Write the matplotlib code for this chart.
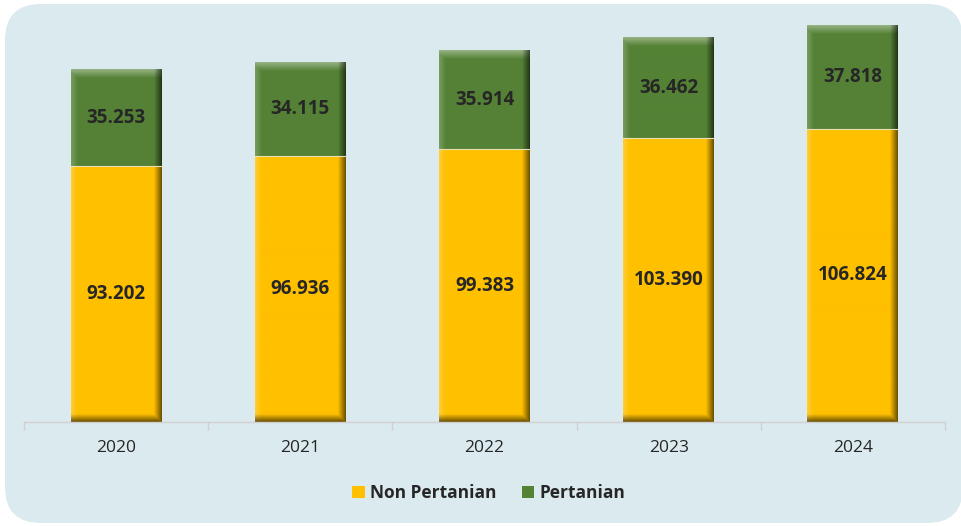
import numpy as np
import matplotlib
matplotlib.use("Agg")
import matplotlib.pyplot as plt
from matplotlib.patches import FancyBboxPatch, Patch
from matplotlib.colors import to_rgb

years = ["2020", "2021", "2022", "2023", "2024"]
non_pertanian = [93.202, 96.936, 99.383, 103.390, 106.824]
pertanian = [35.253, 34.115, 35.914, 36.462, 37.818]

YELLOW = "#FFC000"
GREEN = "#548235"
BG = "#DAEAEF"

plt.rcParams["font.family"] = ["Open Sans", "DejaVu Sans"]

W, H, DPI = 962, 526, 100
fig = plt.figure(figsize=(W / DPI, H / DPI), dpi=DPI)
fig.patch.set_facecolor("white")

# rounded light-blue panel, drawn in pixel coords on a background axes
bg = fig.add_axes([0, 0, 1, 1], zorder=-1)
bg.set_xlim(0, W)
bg.set_ylim(H, 0)
bg.axis("off")
bg.add_patch(FancyBboxPatch((5, 4), 958, 519,
                            boxstyle="round,pad=0,rounding_size=36",
                            facecolor=BG, edgecolor="none"))

ax = fig.add_axes([24 / W, 1 - 422 / H, 921 / W, (422 - 10) / H])
ax.set_facecolor("none")
x = np.arange(len(years))
bw = 0.494
b1 = ax.bar(x, non_pertanian, bw, color=YELLOW, label="Non Pertanian", zorder=1)
b2 = ax.bar(x, pertanian, bw, bottom=non_pertanian, color=GREEN,
            label="Pertanian", zorder=1)
ax.set_xlim(-0.5, len(years) - 0.5)
ax.set_ylim(0, 150)

# pixels per data unit
ppx = 921 / len(years)
ppy = (422 - 10) / 150


def bevel(patch, color, top, bottom):
    x0, y0 = patch.get_x(), patch.get_y()
    w, h = patch.get_width(), patch.get_height()
    nw, nh = int(round(w * ppx)), int(round(h * ppy))
    cx = np.arange(nw) + 0.5
    cy = (np.arange(nh) + 0.5)[::-1]  # distance from bottom, row 0 = top
    base = np.array(to_rgb(color))
    img = np.tile(base, (nh, nw, 1))
    dl = cx[None, :]
    dr = nw - cx[None, :]
    db = cy[:, None]
    dt = nh - cy[:, None]
    light = np.clip(1 - dl / 7, 0, 1) * 0.22 * np.ones((nh, 1))
    dark = np.clip(1 - dr / 8, 0, 1) * 0.6 * np.ones((nh, 1))
    if top:
        light = np.maximum(light, np.clip(1 - dt / 9, 0, 1) * 0.4 * np.ones((1, nw)))
    if bottom:
        dark = np.maximum(dark, np.clip(1 - db / 8, 0, 1) * 0.6 * np.ones((1, nw)))
    img = img + (1 - img) * light[..., None]
    img = img * (1 - dark[..., None])
    ax.imshow(np.clip(img, 0, 1), extent=(x0, x0 + w, y0, y0 + h),
              aspect="auto", interpolation="bilinear", zorder=2)


for p in b1:
    bevel(p, YELLOW, top=False, bottom=True)
for p in b2:
    bevel(p, GREEN, top=True, bottom=False)
ax.set_xlim(-0.5, len(years) - 0.5)
ax.set_ylim(0, 150)

# thin light seam between segments
for p in b2:
    ax.plot([p.get_x(), p.get_x() + p.get_width()], [p.get_y(), p.get_y()],
            color="#E8E0B0", lw=0.8, zorder=3)

for i in range(len(years)):
    ax.text(x[i], non_pertanian[i] / 2, f"{non_pertanian[i]:.3f}",
            ha="center", va="center", fontsize=13.5, fontweight="bold",
            color="#262626", zorder=4)
    ax.text(x[i], non_pertanian[i] + pertanian[i] / 2, f"{pertanian[i]:.3f}",
            ha="center", va="center", fontsize=13.5, fontweight="bold",
            color="#262626", zorder=4)

for s in ["top", "right", "left"]:
    ax.spines[s].set_visible(False)
ax.spines["bottom"].set_color("#D0D0D0")
ax.spines["bottom"].set_linewidth(1)
ax.set_yticks([])
ax.set_xticks(x)
ax.set_xticklabels(years, fontsize=12.5, color="#262626")
ax.tick_params(axis="x", length=0, pad=13)
ax.set_xticks(np.arange(-0.5, len(years)), minor=True)
ax.tick_params(axis="x", which="minor", length=6, color="#D0D0D0", width=1)

handles = [Patch(facecolor=YELLOW), Patch(facecolor=GREEN)]
fig.legend(handles, ["Non Pertanian", "Pertanian"], loc="center",
           bbox_to_anchor=(489 / W, 1 - 493 / H), ncol=2, frameon=False,
           prop={"size": 12.5, "weight": "bold"}, handlelength=0.7,
           handleheight=0.7, handletextpad=0.3, columnspacing=1.5,
           labelcolor="#262626")

fig.savefig("out.png", dpi=DPI)
